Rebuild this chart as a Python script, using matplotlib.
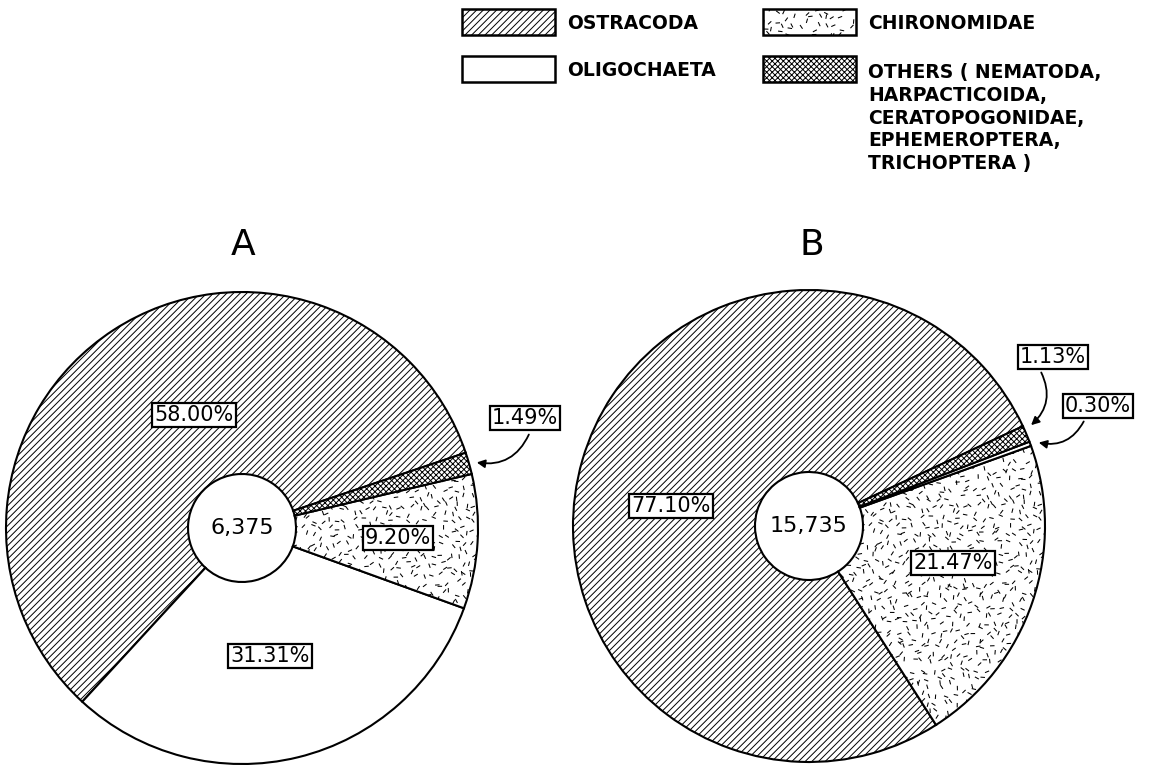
import numpy as np
import matplotlib.pyplot as plt
from matplotlib.patches import Rectangle
from matplotlib.collections import LineCollection

# composition of the fauna, percent of total individuals
groups = ["OSTRACODA", "OLIGOCHAETA", "CHIRONOMIDAE", "OTHERS"]
pct_a = [58.00, 31.31, 9.20, 1.49]
pct_b = [77.10, 0.30, 21.47, 1.13]
total_a = "6,375"
total_b = "15,735"
others_text = "OTHERS ( NEMATODA,\nHARPACTICOIDA,\nCERATOPOGONIDAE,\nEPHEMEROPTERA,\nTRICHOPTERA )"

# chironomidae gets a texture of short dashes instead of a hatch
hatches = {"OSTRACODA": "/////", "OLIGOCHAETA": "", "CHIRONOMIDAE": "", "OTHERS": "xxxxxx"}

# order of the wedges going counter-clockwise from the start angle
order_a = ["OSTRACODA", "OLIGOCHAETA", "CHIRONOMIDAE", "OTHERS"]
order_b = ["OSTRACODA", "CHIRONOMIDAE", "OLIGOCHAETA", "OTHERS"]

W, H = 1149, 765
plt.rcParams["hatch.linewidth"] = 0.7
plt.rcParams["font.family"] = ["DejaVu Sans"]

fig = plt.figure(figsize=(W / 100, H / 100), dpi=100)
ax = fig.add_axes([0, 0, 1, 1])


def Y(y):
    # picture coordinates have y going down
    return H - y


def noise(i, j, k):
    # deterministic hash in [0, 1), only used for the texture
    v = np.sin(i * 12.9898 + j * 78.233 + k * 37.719) * 43758.5453
    return v - np.floor(v)


def dashes(patch, x0, x1, y0, y1, step=8.0, length=4.5):
    # little dashes at scattered angles, clipped to the patch
    segs = []
    for i, x in enumerate(np.arange(x0, x1, step)):
        for j, y in enumerate(np.arange(y0, y1, step)):
            a = np.pi * noise(i, j, 1)
            cx = x + (noise(i, j, 2) - 0.5) * step
            cy = y + (noise(i, j, 3) - 0.5) * step
            dx, dy = 0.5 * length * np.cos(a), 0.5 * length * np.sin(a)
            segs.append([(cx - dx, cy - dy), (cx + dx, cy + dy)])
    lc = LineCollection(segs, colors="black", linewidths=0.75, zorder=patch.get_zorder() + 0.1)
    ax.add_collection(lc)
    lc.set_clip_path(patch)


def draw_pie(pcts, order, start, cx, cy, total):
    vals = [pcts[groups.index(g)] for g in order]
    wedges, _ = ax.pie(vals, colors=["white"] * len(vals), hatch=[hatches[g] for g in order],
                       startangle=start, counterclock=True, center=(cx, Y(cy)), radius=236,
                       wedgeprops=dict(width=236 - 54, edgecolor="black", linewidth=1.5),
                       frame=True)
    w = wedges[order.index("CHIRONOMIDAE")]
    dashes(w, cx - 240, cx + 240, Y(cy) - 240, Y(cy) + 240)
    ax.text(cx, Y(cy), total, ha="center", va="center", fontsize=16, zorder=5)


def box_label(x, y, txt):
    ax.text(x, Y(y), txt, ha="center", va="center", fontsize=15, zorder=6,
            bbox=dict(boxstyle="square,pad=0.1", fc="white", ec="black", lw=1.6))


draw_pie(pct_a, order_a, 18.6, 242, 528, total_a)
draw_pie(pct_b, order_b, 25.0, 809, 526, total_b)

ax.text(243, Y(245), "A", ha="center", va="center", fontsize=26)
ax.text(812, Y(245), "B", ha="center", va="center", fontsize=26)

fmt = "{:.2f}%"
box_label(194, 415, fmt.format(pct_a[0]))
box_label(270, 656, fmt.format(pct_a[1]))
box_label(398, 538, fmt.format(pct_a[2]))
box_label(525, 418, fmt.format(pct_a[3]))
box_label(671, 506, fmt.format(pct_b[0]))
box_label(953, 563, fmt.format(pct_b[2]))
box_label(1053, 357, fmt.format(pct_b[3]))
box_label(1098, 406, fmt.format(pct_b[1]))

arrow = dict(arrowstyle="-|>", color="black", lw=1.3, mutation_scale=12)
ax.annotate("", xy=(474, Y(462)), xytext=(530, Y(432)),
            arrowprops=dict(connectionstyle="arc3,rad=-0.4", **arrow))
ax.annotate("", xy=(1029, Y(427)), xytext=(1040, Y(370)),
            arrowprops=dict(connectionstyle="arc3,rad=-0.4", **arrow))
ax.annotate("", xy=(1036, Y(442)), xytext=(1085, Y(419)),
            arrowprops=dict(connectionstyle="arc3,rad=-0.4", **arrow))

# legend drawn by hand
legend_pos = {"OSTRACODA": (462, 9), "CHIRONOMIDAE": (763, 9),
              "OLIGOCHAETA": (462, 56), "OTHERS": (763, 56)}
for g in groups:
    x, y = legend_pos[g]
    rect = Rectangle((x, Y(y + 26)), 93, 26, fc="white", ec="black",
                     lw=1.8, hatch=hatches[g])
    ax.add_patch(rect)
    if g == "CHIRONOMIDAE":
        dashes(rect, x, x + 93, Y(y + 26), Y(y))
    if g == "OTHERS":
        ax.text(x + 105, Y(y + 7), others_text, ha="left", va="top",
                fontsize=13.5, fontweight="bold", linespacing=1.25)
    else:
        ax.text(x + 105, Y(y + 14), g, ha="left", va="center",
                fontsize=13.5, fontweight="bold")

ax.set_xlim(0, W)
ax.set_ylim(0, H)
ax.set_aspect("equal")
ax.axis("off")
fig.savefig("out.png", dpi=100)
